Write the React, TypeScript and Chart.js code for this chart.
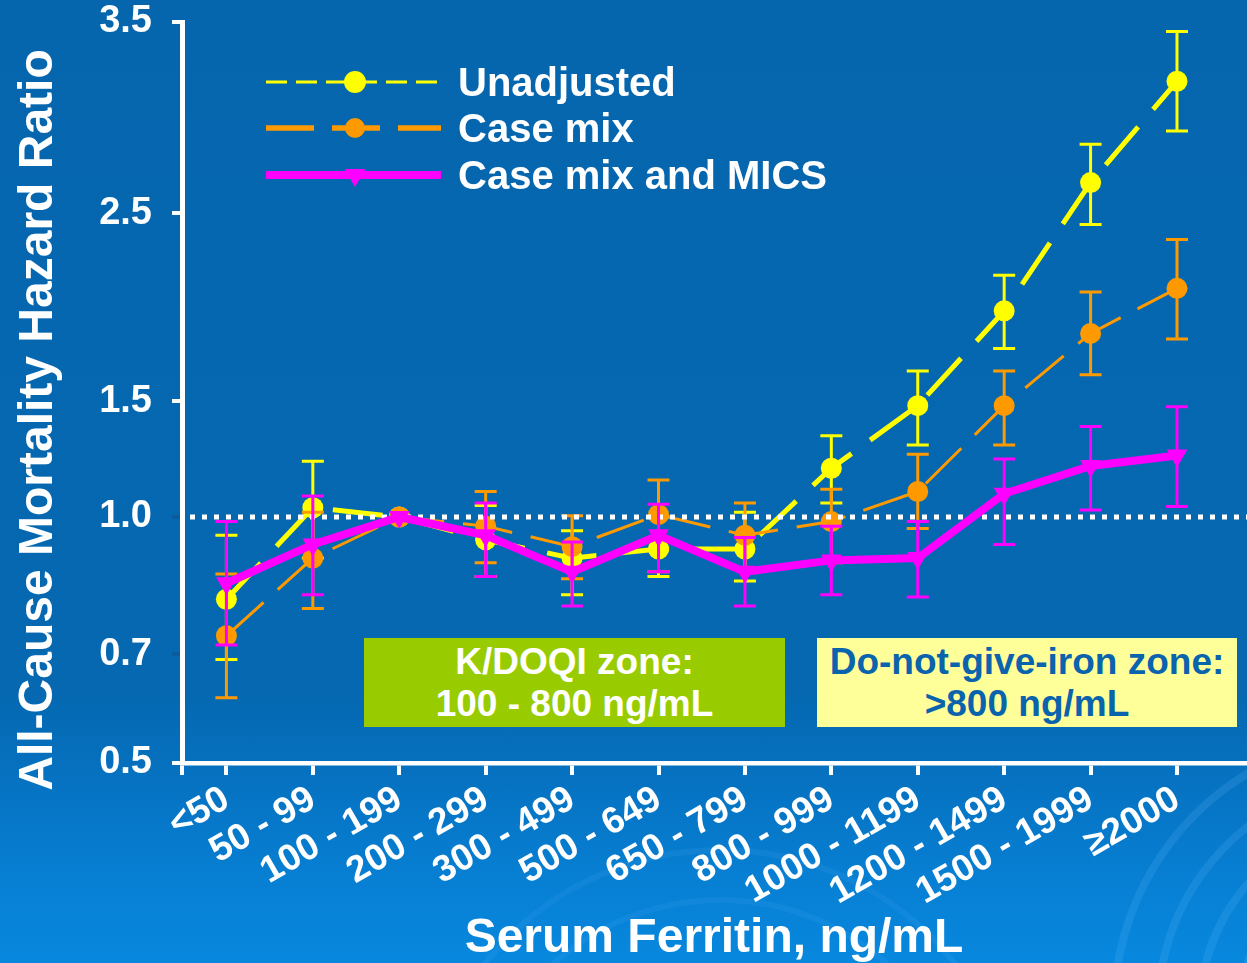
import React, { useEffect, useRef } from 'react';
import { Chart, registerables, LinearScale } from 'chart.js';

const FONT = '"Liberation Sans", Arial, Helvetica, sans-serif';

// Serum ferritin bands (ng/mL) along the x axis
const FERRITIN_BANDS = [
  '<50', '50 - 99', '100 - 199', '200 - 299', '300 - 499', '500 - 649',
  '650 - 799', '800 - 999', '1000 - 1199', '1200 - 1499', '1500 - 1999', '≥2000',
];

// All-cause mortality hazard ratios with lower / upper confidence limits.
// The 100 - 199 band is the reference group (HR = 1, no interval).
const HR_UNADJUSTED = [0.82, 1.04, 1.0, 0.95, 0.91, 0.93, 0.93, 1.21, 1.48, 1.98, 2.66, 3.19];
const HR_UNADJUSTED_LOW = [0.69, 0.91, null, 0.87, 0.83, 0.87, 0.86, 1.06, 1.31, 1.78, 2.44, 2.93];
const HR_UNADJUSTED_HIGH = [0.96, 1.24, null, 1.05, 0.97, 1.0, 1.02, 1.35, 1.66, 2.17, 2.86, 3.45];

const HR_CASE_MIX = [0.74, 0.91, 1.0, 0.98, 0.935, 1.01, 0.96, 0.99, 1.11, 1.48, 1.86, 2.1];
const HR_CASE_MIX_LOW = [0.62, 0.8, null, 0.9, 0.865, 0.88, 0.885, 0.9, 0.975, 1.31, 1.64, 1.83];
const HR_CASE_MIX_HIGH = [0.875, 1.02, null, 1.11, 1.005, 1.16, 1.06, 1.12, 1.27, 1.66, 2.08, 2.36];

const HR_MICS = [0.855, 0.94, 1.0, 0.96, 0.88, 0.96, 0.88, 0.905, 0.91, 1.1, 1.22, 1.265];
const HR_MICS_LOW = [0.72, 0.83, null, 0.87, 0.805, 0.88, 0.805, 0.83, 0.825, 0.94, 1.03, 1.045];
const HR_MICS_HIGH = [0.99, 1.09, null, 1.06, 0.945, 1.055, 0.955, 0.98, 0.99, 1.25, 1.39, 1.475];

// Hazard-ratio axis: labelled stops and where each sits along the axis (0 = bottom, 1 = top).
// The stops are not evenly spaced, so the axis is piecewise linear between them.
const Y_TICK_VALUES = [0.5, 0.7, 1.0, 1.5, 2.5, 3.5];
const Y_AXIS_STOPS = [0, 0.147, 0.332, 0.4885, 0.742, 1];

function valueToStop(v: number): number {
  const vals = Y_TICK_VALUES;
  const n = vals.length;
  let i = 1;
  while (i < n - 1 && v > vals[i]) i++;
  const t = (v - vals[i - 1]) / (vals[i] - vals[i - 1]);
  return Y_AXIS_STOPS[i - 1] + t * (Y_AXIS_STOPS[i] - Y_AXIS_STOPS[i - 1]);
}

function stopToValue(f: number): number {
  const n = Y_AXIS_STOPS.length;
  let i = 1;
  while (i < n - 1 && f > Y_AXIS_STOPS[i]) i++;
  const t = (f - Y_AXIS_STOPS[i - 1]) / (Y_AXIS_STOPS[i] - Y_AXIS_STOPS[i - 1]);
  return Y_TICK_VALUES[i - 1] + t * (Y_TICK_VALUES[i] - Y_TICK_VALUES[i - 1]);
}

// Linear scale whose value-to-pixel mapping follows the stops above
class SegmentedScale extends LinearScale {
  static id = 'segmented';
  static defaults = LinearScale.defaults;
  getPixelForValue(value: any) {
    if (value === null || value === undefined || Number.isNaN(value)) return NaN;
    return this.getPixelForDecimal(valueToStop(value));
  }
  getValueForPixel(pixel: number) {
    return stopToValue(this.getDecimalForPixel(pixel));
  }
}

Chart.register(...registerables, SegmentedScale);

const SERIES = [
  {
    label: 'Unadjusted', hr: HR_UNADJUSTED, low: HR_UNADJUSTED_LOW, high: HR_UNADJUSTED_HIGH,
    color: '#ffff00', width: 5, dash: [50, 23], marker: 'circle', radius: 10.5, rotation: 0, order: 2,
    legendWidth: 3, legendDash: [21, 9], legendRadius: 11,
  },
  {
    label: 'Case mix', hr: HR_CASE_MIX, low: HR_CASE_MIX_LOW, high: HR_CASE_MIX_HIGH,
    color: '#ff9900', width: 3, dash: [50, 19], marker: 'circle', radius: 10.5, rotation: 0, order: 1,
    legendWidth: 5.5, legendDash: [48, 18], legendRadius: 10,
  },
  {
    label: 'Case mix and MICS', hr: HR_MICS, low: HR_MICS_LOW, high: HR_MICS_HIGH,
    color: '#ff00ff', width: 8, dash: [], marker: 'triangle', radius: 12, rotation: 180, order: 0,
    legendWidth: 8, legendDash: [], legendRadius: 12,
  },
];

// Decorative swirls in the lower part of the slide
const swirlPlugin = {
  id: 'swirls',
  beforeDraw(chart: any) {
    const ctx = chart.ctx;
    ctx.save();
    ctx.strokeStyle = 'rgba(110,190,255,0.16)';
    ctx.lineWidth = 8;
    [150, 190, 232, 276].forEach((r) => {
      ctx.beginPath();
      ctx.arc(1390, 1010, r, Math.PI * 0.95, Math.PI * 1.5);
      ctx.stroke();
    });
    ctx.lineWidth = 6;
    ctx.strokeStyle = 'rgba(110,190,255,0.1)';
    [250, 300].forEach((r) => {
      ctx.beginPath();
      ctx.arc(720, 1150, r, Math.PI * 1.15, Math.PI * 1.85);
      ctx.stroke();
    });
    ctx.restore();
  },
};

// Confidence-interval whiskers drawn just beneath each series, plus the HR = 1 reference line
const errorBarPlugin = {
  id: 'errorBars',
  beforeDatasetDraw(chart: any, args: any) {
    const ds = chart.data.datasets[args.index];
    const ctx = chart.ctx;
    const xs = chart.scales.x;
    const ys = chart.scales.y;
    ctx.save();
    if (ds.showReference) {
      const y = ys.getPixelForValue(1.0);
      ctx.strokeStyle = '#ffffff';
      ctx.lineWidth = 5;
      ctx.setLineDash([5, 7]);
      ctx.beginPath();
      ctx.moveTo(chart.chartArea.left + 8, y);
      ctx.lineTo(chart.width, y);
      ctx.stroke();
      ctx.setLineDash([]);
    }
    ctx.strokeStyle = ds.borderColor;
    ctx.lineWidth = 3;
    ctx.setLineDash([]);
    const half = 11;
    ds.ciLow.forEach((lo: number | null, i: number) => {
      const hi = ds.ciHigh[i];
      if (lo == null || hi == null) return;
      const x = xs.getPixelForValue(i);
      const y1 = ys.getPixelForValue(lo);
      const y2 = ys.getPixelForValue(hi);
      ctx.beginPath();
      ctx.moveTo(x, y1);
      ctx.lineTo(x, y2);
      ctx.moveTo(x - half, y1);
      ctx.lineTo(x + half, y1);
      ctx.moveTo(x - half, y2);
      ctx.lineTo(x + half, y2);
      ctx.stroke();
    });
    ctx.restore();
  },
};

const LEGEND_LINE_START = 266;
const LEGEND_LINE_END = 441;
const LEGEND_MARKER_X = 355;
const LEGEND_TEXT_X = 458;
const LEGEND_ROW_Y = [82, 128, 175];

function drawMarker(ctx: CanvasRenderingContext2D, style: string, x: number, y: number, r: number, color: string) {
  ctx.fillStyle = color;
  ctx.beginPath();
  if (style === 'triangle') {
    ctx.moveTo(x, y + r);
    ctx.lineTo(x - r * 0.866, y - r / 2);
    ctx.lineTo(x + r * 0.866, y - r / 2);
    ctx.closePath();
  } else {
    ctx.arc(x, y, r, 0, Math.PI * 2);
  }
  ctx.fill();
}

// Legend and axis titles
const overlayPlugin = {
  id: 'overlay',
  afterDraw(chart: any) {
    const ctx = chart.ctx;
    ctx.save();
    SERIES.forEach((s, k) => {
      const y = LEGEND_ROW_Y[k];
      ctx.strokeStyle = s.color;
      ctx.lineWidth = s.legendWidth;
      ctx.setLineDash(s.legendDash);
      ctx.beginPath();
      ctx.moveTo(LEGEND_LINE_START, y);
      ctx.lineTo(LEGEND_LINE_END, y);
      ctx.stroke();
      ctx.setLineDash([]);
      drawMarker(ctx, s.marker, LEGEND_MARKER_X, y, s.legendRadius, s.color);
      ctx.fillStyle = '#ffffff';
      ctx.font = `bold 40px ${FONT}`;
      ctx.textAlign = 'left';
      ctx.textBaseline = 'alphabetic';
      ctx.fillText(s.label, LEGEND_TEXT_X, y + 14);
    });

    ctx.fillStyle = '#ffffff';
    ctx.font = `bold 48px ${FONT}`;
    ctx.textAlign = 'center';
    ctx.textBaseline = 'alphabetic';
    ctx.save();
    ctx.translate(52, 420);
    ctx.rotate(-Math.PI / 2);
    ctx.fillText('All-Cause Mortality Hazard Ratio', 0, 0);
    ctx.restore();

    ctx.font = `bold 48px ${FONT}`;
    ctx.fillText('Serum Ferritin, ng/mL', 714, 952);
    ctx.restore();
  },
};

const X_MIN = -0.514;
const X_MAX = 11.81;

export default function App() {
  const canvasRef = useRef<HTMLCanvasElement | null>(null);

  useEffect(() => {
    const canvas = canvasRef.current;
    if (!canvas) return;
    const chart = new Chart(canvas, {
      type: 'line',
      data: {
        datasets: SERIES.map((s, k) => ({
          label: s.label,
          data: s.hr.map((v, i) => ({ x: i, y: v })),
          borderColor: s.color,
          backgroundColor: s.color,
          borderWidth: s.width,
          borderDash: s.dash,
          pointStyle: s.marker,
          pointRadius: s.radius,
          pointRotation: s.rotation,
          pointBorderWidth: 0,
          pointBackgroundColor: s.color,
          tension: 0,
          order: s.order,
          clip: false,
          ciLow: s.low,
          ciHigh: s.high,
          showReference: k === 2,
        })) as any,
      },
      options: {
        animation: false,
        responsive: false,
        devicePixelRatio: 1,
        layout: { autoPadding: false, padding: { top: 22, left: 0, right: 0, bottom: 0 } },
        plugins: { legend: { display: false }, tooltip: { enabled: false } },
        scales: {
          x: {
            type: 'linear',
            min: X_MIN,
            max: X_MAX,
            afterBuildTicks: (s: any) => {
              s.ticks = [X_MIN, ...FERRITIN_BANDS.map((_, i) => i)].map((v) => ({ value: v }));
            },
            afterFit: (s: any) => {
              s.height = 200;
              s.paddingLeft = 0;
              s.paddingRight = 0;
            },
            ticks: {
              autoSkip: false,
              minRotation: 30,
              maxRotation: 30,
              padding: 4,
              color: '#ffffff',
              font: { family: FONT, size: 37, weight: 'bold', lineHeight: 1.1 },
              callback: (v: any) => (Number.isInteger(v) ? FERRITIN_BANDS[v] : ''),
            },
            grid: { drawOnChartArea: false, drawTicks: true, tickLength: 12, color: '#ffffff', lineWidth: 4 },
            border: { display: true, color: '#ffffff', width: 4.5 },
          },
          y: {
            type: 'segmented' as any,
            min: 0.5,
            max: 3.5,
            afterBuildTicks: (s: any) => {
              s.ticks = Y_TICK_VALUES.map((v) => ({ value: v }));
            },
            afterFit: (s: any) => {
              s.width = 182;
              s.paddingTop = 0;
              s.paddingBottom = 0;
            },
            ticks: {
              padding: 20,
              color: '#ffffff',
              font: { family: FONT, size: 38, weight: 'bold', lineHeight: 1.1 },
              callback: (v: any) => Number(v).toFixed(1),
            },
            grid: {
              drawOnChartArea: false,
              drawTicks: true,
              tickLength: 10,
              lineWidth: 4,
              color: (c: any) =>
                c.tick && (c.tick.value === 0.7 || c.tick.value === 1.0) ? '#0b5c9c' : '#ffffff',
            },
            border: { display: true, color: '#ffffff', width: 5 },
          },
        },
      } as any,
      plugins: [swirlPlugin, errorBarPlugin, overlayPlugin],
    });
    return () => chart.destroy();
  }, []);

  const boxBase: React.CSSProperties = {
    position: 'absolute',
    top: 638,
    height: 89,
    display: 'flex',
    flexDirection: 'column',
    alignItems: 'center',
    justifyContent: 'center',
    font: `bold 37px ${FONT}`,
    lineHeight: '42px',
    textAlign: 'center',
    whiteSpace: 'nowrap',
  };

  return (
    <div
      style={{
        position: 'fixed',
        left: 0,
        top: 0,
        width: 1247,
        height: 963,
        overflow: 'hidden',
        background:
          'linear-gradient(to bottom, #0566ae 0%, #0568b1 72%, #0672c1 81%, #077fd3 91%, #0788de 100%)',
      }}
    >
      <canvas
        ref={canvasRef}
        width={1247}
        height={963}
        style={{ position: 'absolute', left: 0, top: 0, width: 1247, height: 963 }}
      />
      <div style={{ ...boxBase, left: 364, width: 421, background: '#99cc00', color: '#ffffff' }}>
        <div>K/DOQI zone:</div>
        <div>100 - 800 ng/mL</div>
      </div>
      <div style={{ ...boxBase, left: 817, width: 420, background: '#ffff99', color: '#0a63ad' }}>
        <div>Do-not-give-iron zone:</div>
        <div>&gt;800 ng/mL</div>
      </div>
    </div>
  );
}
